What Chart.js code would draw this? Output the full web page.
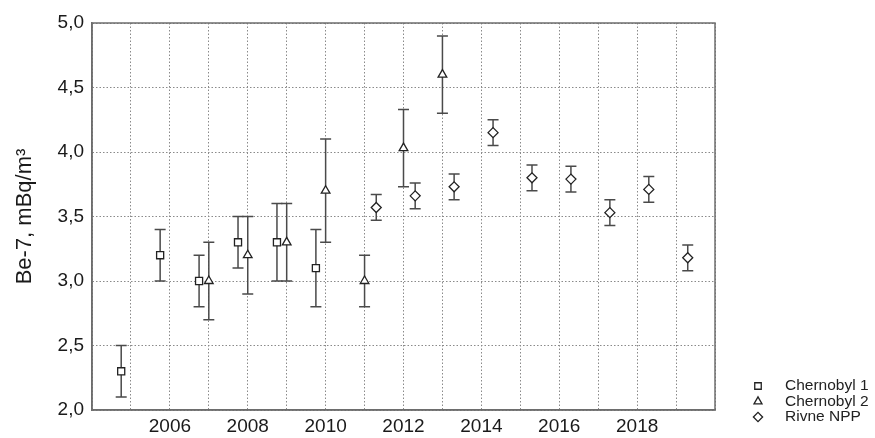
<!DOCTYPE html>
<html>
<head>
<meta charset="utf-8">
<script src="https://cdn.jsdelivr.net/npm/chart.js@4/dist/chart.umd.min.js"></script>
<style>
  html, body { margin: 0; padding: 0; background: #fff; }
  #wrap { width: 875px; height: 438px; }
</style>
</head>
<body>
<div id="wrap"><canvas id="beChart" width="875" height="438"></canvas></div>
<script>
// ============================ DATA =============================
// Chernobyl 1 (squares)
const ch1Years = [2004.75, 2005.75, 2006.75, 2007.75, 2008.75, 2009.75];
const ch1Values = [2.3, 3.2, 3.0, 3.3, 3.3, 3.1];
const ch1Err = [0.2, 0.2, 0.2, 0.2, 0.3, 0.3];

// Chernobyl 2 (triangles)
const ch2Years = [2007, 2008, 2009, 2010, 2011, 2012, 2013];
const ch2Values = [3.0, 3.2, 3.3, 3.7, 3.0, 4.03, 4.6];
const ch2Err = [0.3, 0.3, 0.3, 0.4, 0.2, 0.3, 0.3];

// Rivne NPP (diamonds)
const rivneYears = [2011.3, 2012.3, 2013.3, 2014.3, 2015.3, 2016.3, 2017.3, 2018.3, 2019.3];
const rivneValues = [3.57, 3.66, 3.73, 4.15, 3.80, 3.79, 3.53, 3.71, 3.18];
const rivneErr = [0.1, 0.1, 0.1, 0.1, 0.1, 0.1, 0.1, 0.1, 0.1];

const seriesNames = ['Chernobyl 1', 'Chernobyl 2', 'Rivne NPP'];
const xTickLabels = [2006, 2008, 2010, 2012, 2014, 2016, 2018];
const yTitle = 'Be-7, mBq/m³';

// build {x, y, err} points for chart.js
function toPoints(xs, ys, errs) {
    return xs.map((x, i) => ({ x: x, y: ys[i], err: errs[i] }));
}

const FONT = 'Arial, "Liberation Sans", sans-serif';

// ============================ PLUGINS =============================
// Error bars, drawn under the markers
const errorBarPlugin = {
    id: 'errorBars',
    beforeDatasetsDraw: (chart) => {
        const ctx = chart.ctx;
        const xs = chart.scales.x;
        const ys = chart.scales.y;
        ctx.save();
        ctx.strokeStyle = '#4a4a4a';
        ctx.lineWidth = 1.5;
        chart.data.datasets.forEach((ds) => {
            ds.data.forEach((p) => {
                const px = xs.getPixelForValue(p.x);
                const top = ys.getPixelForValue(p.y + p.err);
                const bot = ys.getPixelForValue(p.y - p.err);
                ctx.beginPath();
                ctx.moveTo(px, top);
                ctx.lineTo(px, bot);
                ctx.moveTo(px - 5.5, top);
                ctx.lineTo(px + 5.5, top);
                ctx.moveTo(px - 5.5, bot);
                ctx.lineTo(px + 5.5, bot);
                ctx.stroke();
            });
        });
        ctx.restore();
    }
};

// Frame around the plot area + legend at the bottom right
const frameLegendPlugin = {
    id: 'frameLegend',
    afterDraw: (chart) => {
        const ctx = chart.ctx;
        const a = chart.chartArea;
        ctx.save();
        ctx.strokeStyle = '#6e6e6e';
        ctx.lineWidth = 1.5;
        ctx.strokeRect(a.left, a.top, a.right - a.left, a.bottom - a.top);

        // legend
        const rows = [386, 401.5, 417];
        ctx.font = '15.5px ' + FONT;
        ctx.textBaseline = 'middle';
        ctx.textAlign = 'left';
        chart.data.datasets.forEach((ds, i) => {
            ctx.strokeStyle = '#222';
            ctx.fillStyle = '#fff';
            ctx.lineWidth = 1.3;
            Chart.helpers.drawPoint(ctx, {
                pointStyle: ds.pointStyle,
                radius: 4.6,
                borderWidth: 1.3,
                rotation: 0
            }, 758, rows[i]);
            ctx.fillStyle = '#222';
            ctx.fillText(ds.label, 785, rows[i]);
        });
        ctx.restore();
    }
};

// ============================ CHART =============================
const ctx = document.getElementById('beChart').getContext('2d');

const beChart = new Chart(ctx, {
    type: 'scatter',
    data: {
        datasets: [{
            label: seriesNames[0],
            data: toPoints(ch1Years, ch1Values, ch1Err),
            pointStyle: 'rect',
            pointRadius: 5,
            borderColor: '#222',
            backgroundColor: '#fff',
            borderWidth: 1.3
        }, {
            label: seriesNames[1],
            data: toPoints(ch2Years, ch2Values, ch2Err),
            pointStyle: 'triangle',
            pointRadius: 5,
            borderColor: '#222',
            backgroundColor: '#fff',
            borderWidth: 1.3
        }, {
            label: seriesNames[2],
            data: toPoints(rivneYears, rivneValues, rivneErr),
            pointStyle: 'rectRot',
            pointRadius: 5,
            borderColor: '#222',
            backgroundColor: '#fff',
            borderWidth: 1.3
        }]
    },
    options: {
        responsive: false,
        animation: false,
        layout: {
            padding: { top: 23, right: 160, left: 0, bottom: 0 }
        },
        plugins: {
            legend: { display: false },
            tooltip: { enabled: false }
        },
        scales: {
            x: {
                type: 'linear',
                min: 2004,
                max: 2020,
                afterFit: (scale) => { scale.height = 28; },
                afterBuildTicks: (scale) => {
                    const t = [];
                    for (let v = 2004; v <= 2020; v++) t.push({ value: v });
                    scale.ticks = t;
                },
                ticks: {
                    padding: 5,
                    autoSkip: false,
                    maxRotation: 0,
                    color: '#1a1a1a',
                    font: { family: FONT, size: 19 },
                    callback: (v) => xTickLabels.includes(v) ? String(v) : ''
                },
                grid: {
                    color: '#8a8a8a',
                    lineWidth: 1,
                    drawTicks: false
                },
                border: { display: true, color: '#6e6e6e', width: 1.5, dash: [1.5, 2] }
            },
            y: {
                min: 2,
                max: 5,
                afterFit: (scale) => { scale.width = 92; },
                ticks: {
                    stepSize: 0.5,
                    padding: 8,
                    color: '#1a1a1a',
                    font: { family: FONT, size: 19 },
                    callback: (v) => v.toFixed(1).replace('.', ',')
                },
                grid: {
                    color: '#8a8a8a',
                    lineWidth: 1,
                    drawTicks: false
                },
                border: { display: true, color: '#6e6e6e', width: 1.5, dash: [1.5, 2] },
                title: {
                    display: true,
                    text: yTitle,
                    color: '#1a1a1a',
                    font: { family: FONT, size: 22 },
                    padding: { top: 12, bottom: 0 }
                }
            }
        }
    },
    plugins: [errorBarPlugin, frameLegendPlugin]
});
</script>
</body>
</html>
